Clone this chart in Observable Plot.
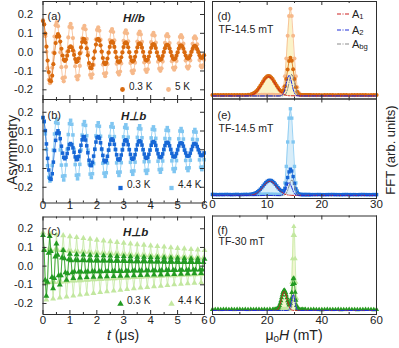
<!DOCTYPE html>
<html><head><meta charset="utf-8">
<script src="https://cdn.jsdelivr.net/npm/d3@7"></script>
<script src="https://cdn.jsdelivr.net/npm/@observablehq/plot@0.6"></script>
<style>
body{margin:0;background:#fff;}
#wrap{position:relative;width:399px;height:348px;overflow:hidden;font-family:"Liberation Sans",Arial,Helvetica,sans-serif;color:#222;}
#wrap svg.plotpanel{position:absolute;left:0;top:0;}
.lbl{position:absolute;white-space:nowrap;font-size:14px;line-height:1;}
.lbl sub{font-size:70%;vertical-align:-0.25em;line-height:0;}
</style></head><body><div id="wrap"></div>
<script>
// ---------- time grids (µs) ----------
const tGridAB = [0,0.043,0.086,0.128,0.171,0.214,0.257,0.299,0.342,0.385,0.428,0.470,
0.513,0.556,0.599,0.641,0.684,0.727,0.770,0.812,0.855,0.898,0.941,0.983,
1.026,1.069,1.112,1.154,1.197,1.240,1.283,1.325,1.368,1.411,1.454,1.496,
1.539,1.582,1.625,1.667,1.710,1.753,1.796,1.838,1.881,1.924,1.967,2.009,
2.052,2.095,2.138,2.180,2.223,2.266,2.309,2.351,2.394,2.437,2.480,2.522,
2.565,2.608,2.651,2.693,2.736,2.779,2.822,2.864,2.907,2.950,2.993,3.035,
3.078,3.121,3.164,3.206,3.249,3.292,3.335,3.377,3.420,3.463,3.506,3.548,
3.591,3.634,3.677,3.719,3.762,3.805,3.848,3.890,3.933,3.976,4.019,4.061,
4.104,4.147,4.190,4.232,4.275,4.318,4.361,4.403,4.446,4.489,4.532,4.574,
4.617,4.660,4.703,4.745,4.788,4.831,4.874,4.916,4.959,5.002,5.045,5.087,
5.130,5.173,5.216,5.258,5.301,5.344,5.387,5.429,5.472,5.515,5.558,5.600,
5.643,5.686,5.729,5.771,5.814,5.857,5.900,5.942,5.985];

const asymA_03K = [.165,.147,.098,.029,-.045,-.106,-.150,-.155,-.125,-.064,-.005,.048,
.082,.096,.085,.056,.018,-.018,-.040,-.047,-.039,-.019,.005,.026,
.031,.026,.009,-.015,-.037,-.052,-.049,-.034,-.007,.025,.054,.071,
.068,.051,.020,-.017,-.058,-.084,-.086,-.068,-.033,.004,.040,.066,
.071,.061,.036,.003,-.031,-.056,-.064,-.056,-.034,-.003,.028,.051,
.057,.049,.028,.001,-.028,-.049,-.054,-.047,-.027,-.002,.027,.047,
.052,.045,.026,-.001,-.026,-.045,-.050,-.043,-.025,.002,.025,.043,
.047,.041,.024,.002,-.024,-.041,-.045,-.039,-.023,-.001,.023,.039,
.043,.037,.022,-.002,-.022,-.037,-.041,-.036,-.021,.001,.021,.036,
.039,.034,.020,.001,-.020,-.034,-.038,-.033,-.019,-.002,.019,.033,
.036,.031,.018,-.001,-.018,-.031,-.034,-.030,-.017,.002,.017,.030,
.033,.028,.016,.001,-.016,-.028,-.031,-.027,-.016];
const asymA_5K = [.170,.147,.085,.002,-.085,-.147,-.165,-.143,-.083,-.002,.083,.143,
.159,.138,.080,-.001,-.080,-.138,-.155,-.134,-.078,.002,.078,.134,
.150,.130,.075,.002,-.075,-.130,-.145,-.126,-.073,-.001,.073,.126,
.140,.121,.070,-.002,-.070,-.121,-.136,-.118,-.068,.001,.068,.118,
.132,.114,.066,.001,-.066,-.114,-.128,-.111,-.064,-.002,.064,.111,
.123,.107,.062,-.001,-.062,-.107,-.119,-.103,-.060,.002,.060,.103,
.116,.100,.058,.002,-.058,-.100,-.112,-.097,-.056,-.001,.056,.097,
.109,.094,.055,-.002,-.055,-.094,-.105,-.091,-.053,.001,.053,.091,
.102,.088,.051,.001,-.051,-.088,-.099,-.086,-.050,-.002,.050,.086,
.096,.083,.048,-.001,-.048,-.083,-.093,-.081,-.047,.002,.047,.081,
.090,.078,.045,.002,-.045,-.078,-.087,-.075,-.044,-.001,.044,.075,
.084,.073,.042,-.001,-.042,-.073,-.081,-.070,-.041];

const asymB_03K = [.172,.152,.102,.031,-.046,-.108,-.152,-.158,-.128,-.066,-.004,.050,
.088,.101,.090,.059,.019,-.018,-.041,-.048,-.040,-.020,.006,.028,
.033,.027,.010,-.014,-.038,-.053,-.051,-.036,-.008,.024,.053,.070,
.069,.052,.021,-.016,-.056,-.082,-.085,-.067,-.034,.003,.041,.065,
.070,.062,.037,.004,-.030,-.057,-.065,-.057,-.035,-.002,.029,.052,
.058,.050,.029,.002,-.027,-.050,-.055,-.048,-.028,-.001,.028,.048,
.053,.046,.027,.000,-.025,-.046,-.051,-.044,-.026,.001,.026,.044,
.048,.042,.025,.001,-.023,-.042,-.046,-.040,-.024,-.002,.024,.040,
.044,.038,.023,-.001,-.021,-.038,-.042,-.037,-.022,.002,.022,.037,
.040,.035,.021,.002,-.019,-.035,-.039,-.034,-.020,-.001,.020,.034,
.037,.032,.019,-.002,-.017,-.032,-.035,-.031,-.018,.001,.018,.031,
.034,.029,.017,.001,-.015,-.029,-.032,-.028,-.017];
const asymB_44K = [.170,.147,.085,.002,-.085,-.147,-.167,-.145,-.084,-.002,.084,.145,
.163,.141,.082,-.001,-.082,-.141,-.161,-.139,-.081,.002,.081,.139,
.157,.136,.079,.002,-.079,-.136,-.155,-.134,-.078,-.001,.078,.134,
.150,.130,.075,-.002,-.075,-.130,-.148,-.128,-.074,.001,.074,.128,
.144,.125,.072,.001,-.072,-.125,-.142,-.123,-.071,-.002,.071,.123,
.139,.120,.070,-.001,-.070,-.120,-.137,-.119,-.069,.002,.069,.119,
.133,.115,.067,.002,-.067,-.115,-.131,-.113,-.066,-.001,.066,.113,
.128,.111,.064,-.002,-.064,-.111,-.126,-.109,-.063,.001,.063,.109,
.122,.106,.061,.001,-.061,-.106,-.120,-.104,-.060,-.002,.060,.104,
.118,.102,.059,-.001,-.059,-.102,-.116,-.100,-.058,.002,.058,.100,
.113,.098,.057,.002,-.057,-.098,-.111,-.096,-.056,-.001,.056,.096,
.108,.094,.054,-.001,-.054,-.094,-.106,-.092,-.053];

const tGridC = [0,0.042,0.083,0.125,0.167,0.208,0.25,0.292,0.333,0.375,0.417,0.458,
0.5,0.542,0.583,0.625,0.667,0.708,0.75,0.792,0.833,0.875,0.917,0.958,
1,1.042,1.083,1.125,1.167,1.208,1.25,1.292,1.333,1.375,1.417,1.458,
1.5,1.542,1.583,1.625,1.667,1.708,1.75,1.792,1.833,1.875,1.917,1.958,
2,2.042,2.083,2.125,2.167,2.208,2.25,2.292,2.333,2.375,2.417,2.458,
2.5,2.542,2.583,2.625,2.667,2.708,2.75,2.792,2.833,2.875,2.917,2.958,
3,3.042,3.083,3.125,3.167,3.208,3.25,3.292,3.333,3.375,3.417,3.458,
3.5,3.542,3.583,3.625,3.667,3.708,3.75,3.792,3.833,3.875,3.917,3.958,
4,4.042,4.083,4.125,4.167,4.208,4.25,4.292,4.333,4.375,4.417,4.458,
4.5,4.542,4.583,4.625,4.667,4.708,4.75,4.792,4.833,4.875,4.917,4.958,
5,5.042,5.083,5.125,5.167,5.208,5.25,5.292,5.333,5.375,5.417,5.458,
5.5,5.542,5.583,5.625,5.667,5.708,5.75,5.792,5.833,5.875,5.917,5.958,
6];
const asymC_03K = [.165,.085,-.075,-.160,-.085,.070,
.160,.080,-.060,-.120,-.065,.050,
.120,.060,-.050,-.100,-.050,.045,
.085,.040,-.035,-.075,-.040,.035,
.065,.030,-.035,-.065,-.030,.032,
.062,.030,-.031,-.062,-.031,.031,
.061,.030,-.030,-.060,-.030,.030,
.059,.029,-.029,-.059,-.029,.029,
.057,.029,-.029,-.057,-.029,.029,
.056,.028,-.028,-.056,-.028,.028,
.055,.027,-.027,-.055,-.027,.027,
.053,.027,-.027,-.053,-.027,.027,
.052,.026,-.026,-.052,-.026,.026,
.051,.025,-.025,-.051,-.025,.025,
.049,.025,-.025,-.049,-.025,.025,
.048,.024,-.024,-.048,-.024,.024,
.047,.023,-.023,-.047,-.023,.023,
.046,.023,-.023,-.046,-.023,.023,
.045,.022,-.022,-.045,-.022,.022,
.044,.022,-.022,-.044,-.022,.022,
.043,.021,-.021,-.043,-.021,.021,
.041,.021,-.021,-.041,-.021,.021,
.040,.020,-.020,-.040,-.020,.020,
.039,.020,-.020,-.039,-.020,.020,
.038];
const asymC_44K = [.180,.090,-.090,-.180,-.090,.090,
.175,.087,-.087,-.175,-.087,.087,
.169,.085,-.085,-.169,-.085,.085,
.164,.082,-.082,-.164,-.082,.082,
.159,.079,-.079,-.159,-.079,.079,
.154,.077,-.077,-.154,-.077,.077,
.149,.075,-.075,-.149,-.075,.075,
.145,.072,-.072,-.145,-.072,.072,
.140,.070,-.070,-.140,-.070,.070,
.136,.068,-.068,-.136,-.068,.068,
.132,.066,-.066,-.132,-.066,.066,
.128,.064,-.064,-.128,-.064,.064,
.124,.062,-.062,-.124,-.062,.062,
.120,.060,-.060,-.120,-.060,.060,
.116,.058,-.058,-.116,-.058,.058,
.113,.056,-.056,-.113,-.056,.056,
.109,.055,-.055,-.109,-.055,.055,
.106,.053,-.053,-.106,-.053,.053,
.103,.051,-.051,-.103,-.051,.051,
.099,.050,-.050,-.099,-.050,.050,
.096,.048,-.048,-.096,-.048,.048,
.093,.047,-.047,-.093,-.047,.047,
.090,.045,-.045,-.090,-.045,.045,
.088,.044,-.044,-.088,-.044,.044,
.085];

// ---------- FFT field grids (mT) ----------
const fieldDE = [0,0.5,1,1.5,2,2.5,3,3.5,4,4.5,5,5.5,6,6.5,
7,7.25,7.5,7.75,8,8.25,8.5,8.75,9,9.25,9.5,9.75,10,10.25,10.5,10.75,11,11.25,11.5,11.75,12,12.25,
12.5,12.75,13,13.25,13.5,13.75,14,14.25,14.5,14.75,15,15.25,15.5,15.75,16,16.25,16.5,16.75,17,17.25,17.5,17.75,18,
18.5,19,19.5,20,20.5,21,21.5,22,22.5,23,23.5,24,24.5,25,25.5,26,26.5,27,27.5,28,28.5,29,29.5,30];
const fftD_5K = [.012,.010,.011,.009,.010,.012,.010,.009,.011,.010,.010,.012,.011,.010,
.010,.011,.010,.012,.011,.012,.013,.012,.013,.014,.014,.015,.015,.015,.014,.014,.013,.013,.012,.012,.012,.013,
.019,.041,.100,.225,.430,.691,.918,1.000,.918,.691,.430,.225,.100,.041,.019,.012,.011,.010,.010,.011,.010,.009,.010,
.010,.009,.010,.011,.010,.009,.010,.010,.011,.010,.009,.010,.010,.011,.010,.009,.010,.010,.011,.010,.010,.009,.010,.010];
const fftD_03K = [.012,.011,.010,.011,.012,.010,.011,.010,.012,.011,.010,.011,.012,.013,
.017,.022,.030,.040,.054,.071,.093,.117,.144,.170,.194,.213,.226,.230,.226,.213,.194,.170,.144,.117,.093,.071,
.057,.050,.065,.110,.195,.304,.401,.439,.404,.307,.194,.101,.047,.021,.013,.011,.010,.011,.010,.010,.011,.010,.010,
.011,.010,.010,.009,.010,.011,.010,.010,.009,.010,.011,.010,.010,.009,.010,.011,.010,.010,.010,.011,.009,.010,.010,.011];
const fitD_A1_field = [0,6.5,7,7.25,7.5,7.75,8,8.25,8.5,8.75,9,9.25,9.5,9.75,10,10.25,10.5,10.75,11,11.25,11.5,11.75,12,12.25,12.5,12.75,13,13.25,13.5,13.75,14,30];
const fitD_A1 = [0,.002,.007,.012,.020,.030,.044,.061,.083,.107,.134,.160,.184,.203,.216,.220,.216,.203,.184,.160,.134,.107,.083,.061,.044,.030,.020,.012,.007,.004,.002,0];
const fitD_A2_field = [0,12.25,12.5,12.75,13,13.25,13.5,13.75,14,14.25,14.5,14.75,15,15.25,15.5,15.75,30];
const fitD_A2 = [0,0,.003,.010,.032,.077,.144,.209,.237,.209,.144,.077,.032,.010,.003,0,0];
const fitD_Abg_field = [0,12.75,13,13.25,13.5,13.75,14,14.25,14.5,14.75,15,15.25,15.5,15.75,16,16.25,30];
const fitD_Abg = [0,0,.003,.011,.034,.081,.152,.220,.250,.220,.152,.081,.034,.011,.003,0,0];

const fftE_44K = [.011,.010,.009,.010,.011,.010,.010,.009,.010,.011,.010,.010,.011,.010,
.010,.011,.010,.011,.012,.011,.012,.012,.013,.013,.013,.014,.014,.014,.013,.013,.013,.012,.012,.012,.011,.011,.011,
.021,.054,.145,.335,.617,.892,1.000,.892,.617,.335,.145,.054,.021,.012,.011,.010,.010,.011,.010,.010,.009,.010,
.010,.011,.010,.009,.010,.010,.011,.010,.010,.009,.010,.011,.010,.010,.009,.010,.010,.011,.010,.010,.009,.010,.011,.010];
const fftE_03K = [.012,.011,.010,.011,.010,.012,.011,.010,.011,.012,.010,.011,.012,.012,
.013,.016,.019,.025,.032,.043,.056,.072,.090,.110,.130,.148,.162,.172,.175,.172,.162,.148,.130,.110,.090,.072,
.058,.050,.054,.082,.134,.207,.272,.303,.282,.218,.139,.076,.036,.018,.012,.011,.010,.011,.010,.010,.011,.010,.010,
.010,.010,.011,.010,.009,.010,.010,.011,.010,.010,.009,.010,.011,.010,.010,.010,.009,.010,.011,.010,.010,.009,.010,.010];
const fitE_A1_field = [0,6.5,7,7.25,7.5,7.75,8,8.25,8.5,8.75,9,9.25,9.5,9.75,10,10.25,10.5,10.75,11,11.25,11.5,11.75,12,12.25,12.5,12.75,13,13.25,13.5,13.75,14,14.25,14.5,30];
const fitE_A1 = [0,.001,.003,.006,.009,.015,.022,.033,.046,.062,.080,.100,.120,.138,.152,.162,.165,.162,.152,.138,.120,.100,.080,.062,.046,.033,.022,.015,.009,.006,.003,.002,.001,0];
const fitE_A2_field = [0,12.25,12.5,12.75,13,13.25,13.5,13.75,14,14.25,14.5,14.75,15,15.25,15.5,15.75,30];
const fitE_A2 = [0,0,.002,.007,.020,.049,.091,.132,.150,.132,.091,.049,.020,.007,.002,0,0];
const fitE_Abg_field = [0,12.75,13,13.25,13.5,13.75,14,14.25,14.5,14.75,15,15.25,15.5,15.75,16,16.25,30];
const fitE_Abg = [0,0,.002,.008,.024,.059,.109,.159,.180,.159,.109,.059,.024,.008,.002,0,0];

const fieldF = [0,1,2,3,4,5,6,7,8,9,10,11,12,13,14,15,16,17,18,19,20,21,22,
22.5,
23,23.25,23.5,23.75,24,24.25,24.5,24.75,25,25.25,25.5,25.75,26,26.25,26.5,26.75,27,27.25,27.5,27.75,28,
28.25,28.5,28.75,29,29.25,29.5,29.75,30,30.25,30.5,30.75,31,31.25,31.5,31.75,32,
32.5,33,33.5,34,
35,36,37,38,39,40,41,42,43,44,45,46,47,48,49,50,51,52,53,54,55,56,57,58,59,60];
const fftF_44K = [.010,.011,.010,.009,.010,.011,.010,.010,.009,.010,.011,.010,.010,.009,.010,.011,.010,.010,.011,.010,.010,.011,.010,
.011,
.011,.010,.011,.012,.011,.012,.012,.013,.013,.012,.013,.012,.012,.011,.012,.011,.011,.012,.011,.012,.013,
.021,.054,.145,.335,.617,.892,1.000,.892,.617,.335,.145,.054,.021,.012,.011,.010,
.010,.011,.010,.010,
.010,.011,.010,.010,.009,.010,.011,.010,.010,.009,.010,.010,.011,.010,.009,.010,.010,.011,.010,.010,.009,.010,.011,.010,.010,.010];
const fftF_03K = [.011,.010,.011,.010,.012,.011,.010,.011,.010,.011,.012,.010,.011,.010,.011,.010,.012,.011,.010,.011,.010,.011,.010,
.011,
.011,.013,.015,.020,.028,.041,.060,.085,.115,.150,.184,.213,.233,.240,.233,.213,.184,.150,.116,.088,.068,
.065,.084,.134,.214,.308,.377,.384,.320,.218,.122,.059,.027,.015,.011,.010,.010,
.010,.011,.010,.011,
.010,.010,.011,.010,.010,.009,.010,.011,.010,.010,.010,.011,.009,.010,.010,.011,.010,.010,.009,.010,.010,.011,.010,.010,.009,.010];
const fitF_A1_field = [0,23,23.25,23.5,23.75,24,24.25,24.5,24.75,25,25.25,25.5,25.75,26,26.25,26.5,26.75,27,27.25,27.5,27.75,28,28.25,28.5,28.75,29,29.25,29.5,60];
const fitF_A1 = [0,.001,.003,.005,.010,.018,.031,.050,.075,.105,.140,.174,.203,.223,.230,.223,.203,.174,.140,.105,.075,.050,.031,.018,.010,.005,.003,.001,0];
const fitF_A2_field = [0,27.25,27.5,27.75,28,28.25,28.5,28.75,29,29.25,29.5,29.75,30,30.25,30.5,30.75,31,31.25,31.5,31.75,60];
const fitF_A2 = [0,0,.001,.003,.008,.022,.047,.087,.134,.174,.190,.174,.134,.087,.047,.022,.008,.003,.001,0,0];
const fitF_Abg_field = [0,28,28.25,28.5,28.75,29,29.25,29.5,29.75,30,30.25,30.5,30.75,31,31.25,31.5,60];
const fitF_Abg = [0,0,.002,.009,.027,.065,.121,.176,.200,.176,.121,.065,.027,.009,.002,0,0];

// ---------- ticks & labels ----------
const tTicksMajor = [0,1,2,3,4,5,6];
const tTicksMinor = [0.5,1.5,2.5,3.5,4.5,5.5];
const asymTicks = [-0.2,-0.1,0,0.1,0.2];
const fieldTicksDE = [0,10,20,30], fieldMinorDE = [5,15,25];
const fieldTicksF = [0,20,40,60], fieldMinorF = [10,30,50];

// ---------- styling ----------
const FONT = '"Liberation Sans", Arial, Helvetica, sans-serif';
const INK = "#2e2e2e";
const C = {
  orD: "#d96a0e", orL: "#f6b98b", orFill: "#fbf3c8",
  blD: "#1767d6", blL: "#80c6f1", blFill: "#d8edf9",
  grD: "#229a22", grL: "#c2e79f", grFill: "#f1f6cf",
  a1: "#cc2020", a2: "#1f2ed8", abg: "#8a8a8a"
};
const RECT = {
  a: [42.5, 1, 204, 99], b: [42.5, 99, 204, 202.5], c: [42.5, 216.5, 204, 314],
  d: [212, 1, 376, 98.5], e: [212, 98.5, 376, 198], f: [212, 215.5, 376, 314]
};

function tickMarks(rect, xMajor, xMinor, yMajor) {
  const W = rect[2] - rect[0], H = rect[3] - rect[1];
  const m = [];
  for (const [vals, len] of [[xMajor, 4], [xMinor, 2]]) {
    m.push(Plot.ruleX(vals, {x: d => d, insetTop: H - len, stroke: INK}));
    m.push(Plot.ruleX(vals, {x: d => d, insetBottom: H - len, stroke: INK}));
  }
  if (yMajor) {
    m.push(Plot.ruleY(yMajor, {y: d => d, insetRight: W - 4, stroke: INK}));
    m.push(Plot.ruleY(yMajor, {y: d => d, insetLeft: W - 4, stroke: INK}));
  }
  return m;
}
function panel(rect, xDomain, yDomain, marks) {
  const svg = Plot.plot({
    width: 399, height: 348,
    marginLeft: rect[0], marginTop: rect[1], marginRight: 399 - rect[2], marginBottom: 348 - rect[3],
    x: {domain: xDomain, axis: null}, y: {domain: yDomain, axis: null},
    style: {background: "transparent", fontFamily: FONT, fontSize: "11px", color: "#222", overflow: "visible"},
    marks: [...marks, Plot.frame({stroke: INK, strokeWidth: 1})]
  });
  svg.classList.add("plotpanel");
  return svg;
}
function series(vals, xs, color, symbol, r) {
  return [
    Plot.line(vals, {x: (d, i) => xs[i], y: d => d, stroke: color, strokeWidth: 0.8}),
    Plot.dot(vals, {x: (d, i) => xs[i], y: d => d, fill: color, r, symbol})
  ];
}
function fill(vals, xs, color) {
  return Plot.areaY(vals, {x: (d, i) => xs[i], y: d => d, fill: color});
}
function fit(vals, xs, color) {
  return Plot.line(vals, {x: (d, i) => xs[i], y: d => d, stroke: color, strokeWidth: 1, strokeDasharray: "4,1.5,1,1.5"});
}
const fmtA = d => d.toFixed(1);
function yLabels() {
  return Plot.text(asymTicks, {y: d => d, text: fmtA, frameAnchor: "left", dx: -10, textAnchor: "end", fontSize: 11, fill: "#222"});
}
function xLabels(vals, dy) {
  return Plot.text(vals, {x: d => d, text: d => String(d), frameAnchor: "bottom", dy, fontSize: 11.5, fill: "#222"});
}
function tlabel(str, dx, dy, opts = {}) {
  return Plot.text([str], {text: d => d, frameAnchor: "top-left", dx, dy, textAnchor: "start", fontSize: 11, fill: "#222", ...opts});
}
function legend(sym, rect, dy, items) {
  const m = [];
  for (const [color, label, xDot] of items) {
    m.push(Plot.dot([0], {frameAnchor: "bottom-left", dx: xDot - rect[0], dy, r: 2.4, fill: color, symbol: sym}));
    m.push(Plot.text([label], {text: d => d, frameAnchor: "bottom-left", dx: xDot - rect[0] + 6.5, dy, textAnchor: "start", fontSize: 10, fill: "#222"}));
  }
  return m;
}

const wrap = document.getElementById("wrap");

// (a)
wrap.appendChild(panel(RECT.a, [0, 6], [-0.2515, 0.269], [
  ...series(asymA_5K, tGridAB, C.orL, "circle", 2.1),
  ...series(asymA_03K, tGridAB, C.orD, "circle", 2.1),
  ...tickMarks(RECT.a, tTicksMajor, tTicksMinor, asymTicks),
  yLabels(),
  tlabel("(a)", 4.5, 11),
  Plot.text(["H//b"], {text: d => d, frameAnchor: "top-left", dx: 80, dy: 12.5, fontSize: 11.5, fontWeight: "bold", fontStyle: "italic", fill: "#222"}),
  ...legend("circle", RECT.a, -10, [[C.orD, "0.3 K", 122], [C.orL, "5 K", 168]])
]));
// (b)
wrap.appendChild(panel(RECT.b, [0, 6], [-0.284, 0.268], [
  ...series(asymB_44K, tGridAB, C.blL, "square", 2.0),
  ...series(asymB_03K, tGridAB, C.blD, "square", 2.0),
  ...tickMarks(RECT.b, tTicksMajor, tTicksMinor, asymTicks),
  yLabels(),
  xLabels(tTicksMajor, 5.5),
  tlabel("(b)", 4.5, 12),
  Plot.text(["H\u22A5b"], {text: d => d, frameAnchor: "top-left", dx: 78, dy: 12.5, fontSize: 11.5, fontWeight: "bold", fontStyle: "italic", fill: "#222"}),
  ...legend("square", RECT.b, -15, [[C.blD, "0.3 K", 120], [C.blL, "4.4 K", 171]])
]));
// (c)
wrap.appendChild(panel(RECT.c, [0, 6], [-0.259, 0.263], [
  ...series(asymC_44K, tGridC, C.grL, "triangle", 2.2),
  ...series(asymC_03K, tGridC, C.grD, "triangle", 2.2),
  ...tickMarks(RECT.c, tTicksMajor, tTicksMinor, asymTicks),
  yLabels(),
  xLabels(tTicksMajor, 9),
  tlabel("(c)", 4.5, 10.5),
  Plot.text(["H\u22A5b"], {text: d => d, frameAnchor: "top-left", dx: 80, dy: 11, fontSize: 11.5, fontWeight: "bold", fontStyle: "italic", fill: "#222"}),
  ...legend("triangle", RECT.c, -10.5, [[C.grD, "0.3 K", 120], [C.grL, "4.4 K", 171]])
]));
// (d)
wrap.appendChild(panel(RECT.d, [0, 30], [-0.035, 1.084], [
  fill(fftD_5K, fieldDE, C.orFill), fill(fftD_03K, fieldDE, C.orFill),
  ...series(fftD_5K, fieldDE, C.orL, "circle", 2),
  ...series(fftD_03K, fieldDE, C.orD, "circle", 2),
  fit(fitD_Abg, fitD_Abg_field, C.abg), fit(fitD_A1, fitD_A1_field, C.a1), fit(fitD_A2, fitD_A2_field, C.a2),
  ...tickMarks(RECT.d, fieldTicksDE, fieldMinorDE, null),
  tlabel("(d)", 5, 11), tlabel("TF-14.5 mT", 6, 24.5, {fontSize: 10.5})
]));
// (e)
wrap.appendChild(panel(RECT.e, [0, 30], [-0.035, 1.113], [
  fill(fftE_44K, fieldDE, C.blFill), fill(fftE_03K, fieldDE, C.blFill),
  ...series(fftE_44K, fieldDE, C.blL, "square", 1.9),
  ...series(fftE_03K, fieldDE, C.blD, "square", 1.9),
  fit(fitE_Abg, fitE_Abg_field, C.abg), fit(fitE_A1, fitE_A1_field, C.a1), fit(fitE_A2, fitE_A2_field, C.a2),
  ...tickMarks(RECT.e, fieldTicksDE, fieldMinorDE, null),
  xLabels(fieldTicksDE, 9),
  tlabel("(e)", 5, 12.5), tlabel("TF-14.5 mT", 6, 26, {fontSize: 10.5})
]));
// (f)
wrap.appendChild(panel(RECT.f, [0, 60], [-0.048, 1.125], [
  fill(fftF_44K, fieldF, C.grFill), fill(fftF_03K, fieldF, C.grFill),
  ...series(fftF_44K, fieldF, C.grL, "triangle", 1.9),
  ...series(fftF_03K, fieldF, C.grD, "triangle", 1.9),
  fit(fitF_Abg, fitF_Abg_field, C.abg), fit(fitF_A1, fitF_A1_field, C.a1), fit(fitF_A2, fitF_A2_field, C.a2),
  ...tickMarks(RECT.f, fieldTicksF, fieldMinorF, null),
  xLabels(fieldTicksF, 9),
  tlabel("(f)", 5, 10.5), tlabel("TF-30 mT", 6, 21.5, {fontSize: 10.5})
]));

// ---------- axis titles & fit legend (HTML text) ----------
const overlay = `
<div class="lbl" style="left:12px;top:150px;transform:translate(-50%,-50%) rotate(-90deg);font-size:14px">Asymmetry</div>
<div class="lbl" style="left:123px;top:335px;transform:translate(-50%,-50%)"><i>t</i> (\u03BCs)</div>
<div class="lbl" style="left:294px;top:335px;transform:translate(-50%,-50%)">\u03BC<sub>0</sub><i>H</i> (mT)</div>
<div class="lbl" style="left:390px;top:150px;transform:translate(-50%,-50%) rotate(-90deg);font-size:13px">FFT (arb. units)</div>
${[[C.a1, "A<sub>1</sub>", 14], [C.a2, "A<sub>2</sub>", 30], [C.abg, "A<sub>bg</sub>", 43.5]].map(([c, t, y]) => `
<svg style="position:absolute;left:337px;top:${y - 2}px" width="13" height="4"><line x1="0" y1="2" x2="13" y2="2" stroke="${c}" stroke-width="1" stroke-dasharray="4,1.5,1,1.5"/></svg>
<div class="lbl" style="left:352px;top:${y}px;transform:translateY(-50%);font-size:11px">${t}</div>`).join("")}
`;
wrap.insertAdjacentHTML("beforeend", overlay);
</script></body></html>
